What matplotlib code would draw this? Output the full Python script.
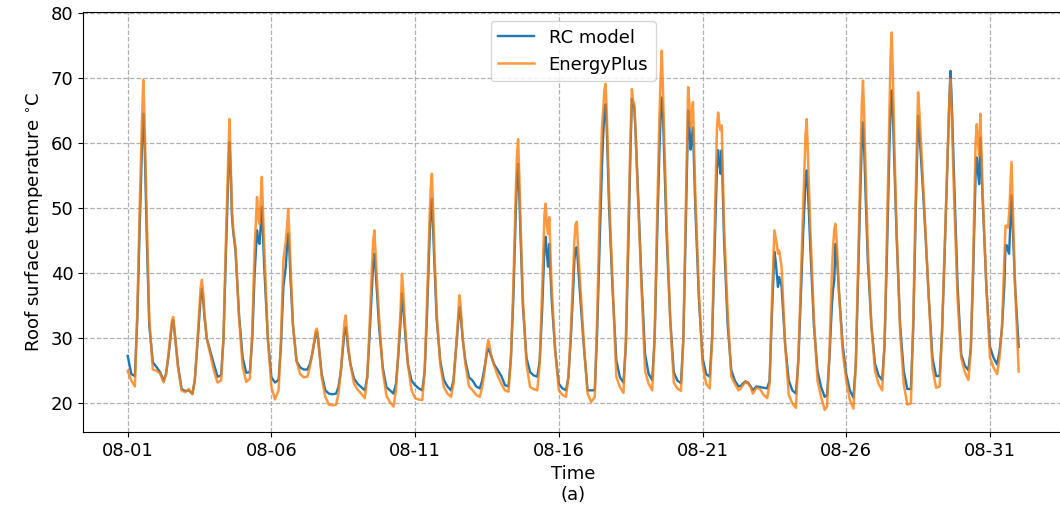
import numpy as np
import matplotlib
matplotlib.use("Agg")
import matplotlib.pyplot as plt
import matplotlib.dates as mdates

# sampling hours inside each day, one row per day (08-01 .. 08-31)
hours = [0, 3, 6, 8, 10, 12, 13, 14, 15, 16, 18, 21]
start = np.datetime64("2019-08-01T00:00")
tick_days = [0, 5, 10, 15, 20, 25, 30]

energyplus = [
    [25.0, 23.5, 22.6, 34, 50, 64, 69.7, 64, 56, 48, 33, 25.2],
    [25.0, 24.6, 23.2, 24.5, 27.5, 31.0, 32.8, 33.3, 31.5, 29.5, 25.5, 22.0],
    [21.7, 22.2, 21.4, 23.5, 29, 35, 38, 39.0, 37, 34, 30, 27.5],
    [25.0, 23.2, 23.5, 30, 45, 58, 63.7, 57, 50, 47, 44, 33],
    [25.6, 23.3, 23.8, 31, 44, 51.7, 48.5, 47.6, 51, 54.8, 44, 30],
    [22.5, 20.6, 22.0, 30, 42, 45, 47, 49.9, 46, 41, 32, 26.5],
    [24.5, 24.0, 24.1, 25.5, 27.5, 30, 31.2, 31.5, 30, 28, 24, 21],
    [19.8, 19.7, 19.8, 21.5, 25, 30, 32.5, 33.5, 31.5, 29, 26, 23],
    [22.1, 21.5, 20.8, 24, 32, 41, 45, 46.6, 43, 39.5, 33, 25],
    [21.2, 20.2, 19.5, 22, 28, 35, 39.9, 37.5, 34, 31, 26, 22],
    [20.8, 20.6, 20.5, 25, 36, 48, 53, 55.3, 50, 44, 34, 26],
    [22.5, 21.5, 21.0, 23, 28, 33.5, 36.6, 35, 32, 29.5, 26, 22.6],
    [22.0, 21.3, 21.0, 22.5, 25, 28.5, 29.7, 29, 28, 27, 25.8, 24.2],
    [23.0, 22.0, 21.8, 27, 38, 52, 58, 60.6, 55, 48, 36, 26],
    [22.5, 22.2, 22.0, 26, 37, 49, 50.7, 47.5, 46.0, 48.6, 38, 28],
    [22.0, 21.3, 21.0, 24, 31, 40, 45, 47.5, 47.9, 44, 38, 29],
    [21.5, 20.2, 21.0, 33, 49, 62.4, 65, 68, 69.1, 65, 52, 38],
    [24.1, 22.5, 21.6, 30, 47, 62, 68.3, 66.5, 66.0, 62, 52, 38],
    [25.0, 23.0, 22.0, 30, 48, 64, 70, 74.2, 68, 61, 48, 33],
    [23.2, 22.3, 21.9, 30, 50, 68.6, 66, 62.5, 64, 66.3, 52, 37],
    [26.0, 23.0, 22.3, 30, 46, 62, 64.7, 63, 62, 62.7, 47, 34],
    [24.1, 23.0, 22.0, 22.3, 22.9, 23.3, 23.1, 23.2, 22.8, 22.6, 21.5, 22.4],
    [22.2, 21.3, 20.8, 23, 36, 46.6, 45.5, 44.5, 43.0, 43.5, 41, 29],
    [21.3, 20.0, 19.3, 27, 38.5, 50, 55.6, 61.3, 63.7, 58, 47, 33],
    [23.5, 21.0, 19.0, 19.5, 28, 40, 44, 46.6, 47.6, 45, 37, 28],
    [23.5, 20.5, 19.2, 26, 42, 58, 66, 69.6, 64, 57, 44, 32],
    [25.0, 23.0, 22.0, 29, 46, 64, 73, 77.0, 70, 61, 47, 31],
    [23.0, 19.8, 20.0, 33, 52, 67.8, 65, 61.5, 58, 54.5, 47, 36],
    [25.5, 22.4, 22.6, 31, 43, 54.5, 60, 66, 69.8, 65, 52, 36],
    [27.0, 24.8, 23.6, 28, 42, 60, 62.9, 60, 58.1, 64.5, 52, 38],
    [27.1, 25.5, 24.5, 27, 31.5, 42, 47.3, 47.3, 47, 49, 57.1, 38],
]
energyplus_end = 24.9

rc_model = [
    [27.3, 24.5, 24.2, 33, 47, 60, 64.5, 61, 53, 45, 32, 26.3],
    [25.6, 24.8, 23.5, 24.5, 27.2, 30.5, 32.3, 32.8, 31.2, 29.4, 25.8, 22.2],
    [21.9, 22.0, 21.5, 23.5, 28.5, 34, 36.5, 37.6, 36, 33.5, 30, 28.0],
    [26.0, 24.1, 24.3, 30, 43, 55, 60.1, 56, 49, 46.5, 43.5, 33.5],
    [27.0, 24.7, 24.8, 30, 40, 46.6, 45, 44.5, 47, 50.2, 41, 30],
    [24.0, 23.2, 23.6, 29, 38, 41, 44, 46.1, 43.5, 39, 32, 26.5],
    [25.5, 25.2, 25.2, 26, 27.5, 29.6, 30.6, 31.0, 29.8, 28, 24.5, 22],
    [21.5, 21.4, 21.5, 22.5, 25, 29, 31, 31.7, 30.5, 28.5, 26, 23.8],
    [23.0, 22.5, 22.0, 24, 30.5, 38, 41.5, 43.0, 40.5, 37.5, 31.5, 25.5],
    [22.5, 22.0, 21.5, 23, 27.5, 33, 36.9, 35, 32.5, 30, 26, 23.5],
    [22.8, 22.3, 22.0, 25, 34, 45, 49.5, 51.4, 47, 42, 33, 26.5],
    [23.6, 22.6, 22.0, 23.5, 28, 32.5, 34.8, 33.8, 31.5, 29.5, 26.5, 24.0],
    [23.5, 22.6, 22.3, 23.5, 25.5, 27.8, 28.4, 28.2, 27.5, 27, 26, 25.1],
    [24.2, 22.8, 22.6, 27, 36, 49, 54.5, 56.8, 52, 46, 35, 27],
    [24.8, 24.3, 24.1, 26.5, 34, 44, 45.6, 43, 41.0, 44.5, 36, 28],
    [23.0, 22.3, 22.0, 24, 30, 37.5, 42, 43.8, 44.0, 41.5, 36, 28.5],
    [22.0, 22.0, 22.0, 31, 44, 56.3, 61, 64.5, 66.0, 62.5, 50, 37],
    [26.6, 24.0, 23.2, 29, 44, 60, 66.8, 66.0, 65.5, 62, 53, 39],
    [27.6, 24.5, 23.6, 30, 45, 59, 64, 67.0, 64, 58, 46, 33],
    [24.8, 23.5, 23.1, 30, 47, 65.0, 62.5, 59, 60.5, 62.4, 50, 36],
    [27.0, 24.5, 24.1, 30, 43, 56, 58.9, 57, 55.3, 58.9, 45, 32],
    [25.1, 23.5, 22.6, 22.7, 23.1, 23.4, 23.2, 23.2, 22.9, 22.7, 22.0, 22.6],
    [22.5, 22.4, 22.3, 23.5, 34, 43.3, 42, 40, 37.9, 39.4, 38, 29],
    [23.5, 22.0, 21.5, 26.5, 36, 46, 50, 54, 55.8, 53, 44, 32],
    [25.0, 22.5, 21.0, 21.3, 27, 35, 37.5, 38.9, 44.5, 43, 37, 29],
    [24.5, 22.0, 20.9, 26, 40, 54, 60, 63.2, 59, 53, 42, 32],
    [26.1, 24.3, 23.6, 29, 43, 59, 65, 68.1, 64, 58, 46, 32],
    [25.0, 22.2, 22.2, 32, 49, 64.2, 62, 59, 56, 53, 46.5, 36],
    [27.0, 24.2, 24.2, 31, 42, 54, 60, 66, 71.1, 67, 55, 38],
    [27.5, 25.8, 25.1, 28.5, 40, 55, 57.8, 55.5, 53.7, 60.8, 51, 38],
    [28.7, 27.0, 26.0, 28, 31.5, 38, 44.3, 44.3, 43.5, 43, 52.0, 38],
]
rc_model_end = 28.7

# build the time axis from day index + hour
times = [start + np.timedelta64(d, "D") + np.timedelta64(h, "h")
         for d in range(len(rc_model)) for h in hours]
times.append(start + np.timedelta64(len(rc_model), "D"))
times = np.array(times)
rc = [v for row in rc_model for v in row] + [rc_model_end]
ep = [v for row in energyplus for v in row] + [energyplus_end]

plt.rcParams["font.size"] = 13
fig = plt.figure(figsize=(10.6, 5.16), dpi=100)
ax = fig.add_axes([0.0786, 0.1628, 0.9243, 0.8134])

ax.plot(times, rc, color="#1f77b4", lw=1.7, label="RC model")
ax.plot(times, ep, color="#ff7f0e", lw=1.8, alpha=0.8, label="EnergyPlus")

ax.set_xticks([start + np.timedelta64(d, "D") for d in tick_days])
ax.xaxis.set_major_formatter(mdates.DateFormatter("%m-%d"))
pad = np.timedelta64(int(1.545 * 24 * 60), "m")
ax.set_xlim(times[0] - pad, times[-1] + pad)
ax.set_ylim(15.6, 80.1)
ax.set_yticks([20, 30, 40, 50, 60, 70, 80])

ax.grid(True, linestyle="--", color="#b0b0b0", lw=0.9)
ax.set_xlabel("Time\n(a)")
ax.set_ylabel("Roof surface temperature $^{\\circ}$C")
ax.legend(loc="upper center")

fig.savefig("out.png", dpi=100)
